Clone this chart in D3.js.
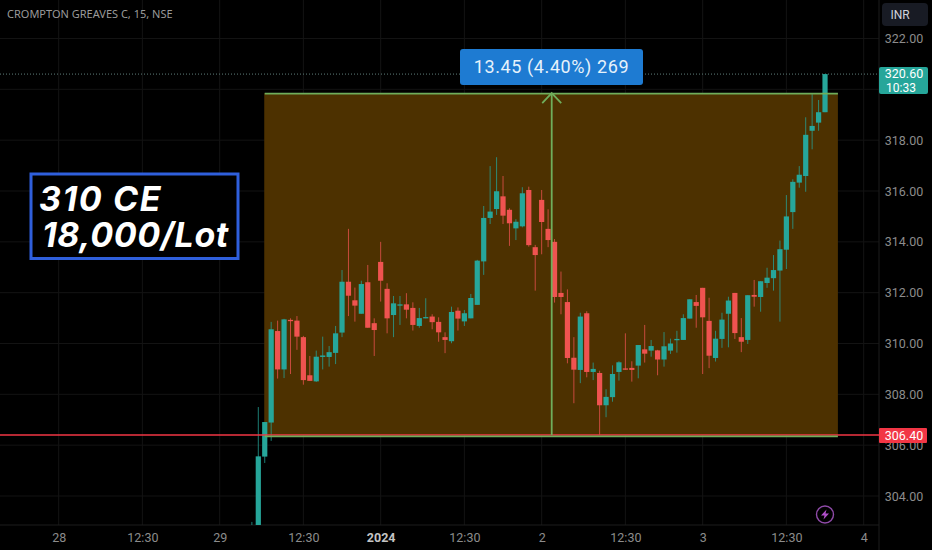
<!DOCTYPE html>
<html>
<head>
<meta charset="utf-8">
<script src="https://cdn.jsdelivr.net/npm/d3@7"></script>
<style>
  html, body { margin: 0; padding: 0; background: #000; overflow: hidden; }
  svg { display: block; }
</style>
</head>
<body>
<script>
// 15 min bars, oldest first
const opens = [302.0,302.6,305.55,306.89,310.49,308.98,310.93,310.90,310.25,308.75,308.51,309.47,309.47,309.63,310.43,312.43,311.70,311.17,312.41,310.80,313.21,312.15,311.12,311.50,311.54,311.40,310.69,311.00,311.06,310.85,310.25,310.09,311.29,310.87,310.99,311.52,313.23,314.94,315.29,315.79,315.26,314.53,314.61,316.04,313.79,315.65,314.51,314.00,311.99,311.63,309.44,308.96,311.19,308.88,308.84,307.57,307.89,308.88,309.02,309.04,309.13,309.77,309.72,309.73,309.37,309.72,310.14,310.14,310.98,311.63,312.19,310.89,309.43,310.18,311.17,311.99,310.25,310.14,311.91,311.83,312.38,312.57,312.87,313.69,315.17,316.33,316.59,318.37,318.69,319.10];
const highs = [302.98,307.50,306.91,310.85,310.90,310.97,310.99,311.08,310.30,309.51,309.72,310.27,309.90,310.69,312.89,314.51,312.20,312.47,313.09,310.99,314.00,312.37,311.87,311.87,311.98,311.62,311.40,311.78,311.15,311.03,310.44,311.45,311.42,311.32,311.95,313.29,315.41,316.98,317.33,316.59,315.32,314.89,316.15,316.17,313.88,316.04,315.28,314.11,312.83,312.13,310.25,311.21,311.27,309.25,308.93,308.20,309.14,309.30,310.40,309.30,309.94,310.73,310.14,309.75,310.45,310.19,310.50,311.15,311.74,311.91,312.19,311.80,310.50,311.21,311.84,311.99,311.00,311.90,312.50,312.45,312.98,313.48,314.05,315.84,316.46,316.98,318.90,319.81,319.58,320.60];
const lows = [301.9,302.5,305.30,306.17,308.62,308.64,308.80,309.75,308.38,308.53,308.49,308.98,309.09,309.19,310.25,311.08,310.86,311.17,310.62,309.51,311.65,310.40,310.25,310.73,310.99,310.51,310.62,310.99,310.56,310.07,309.62,310.01,310.51,310.69,310.99,311.52,312.70,314.70,315.06,314.70,313.84,314.07,314.57,313.81,312.08,313.51,313.79,311.61,311.15,309.22,307.65,308.44,308.67,308.56,306.40,307.10,307.71,308.54,308.97,308.50,308.63,309.25,309.48,308.75,309.09,309.59,309.64,310.14,310.98,310.62,308.80,309.03,309.29,309.83,309.85,310.18,309.66,309.98,311.45,311.25,312.19,312.08,310.86,312.93,314.51,316.13,315.97,317.64,318.37,319.10];
const closes = [302.6,305.56,306.91,310.56,308.98,310.95,310.89,310.27,308.56,308.53,309.48,309.53,309.66,310.40,312.43,311.88,311.49,312.34,310.62,310.53,312.47,310.99,311.58,311.54,311.33,310.73,311.00,311.04,310.84,310.44,310.14,311.24,310.98,311.19,311.79,313.26,314.94,315.19,315.99,315.03,314.73,314.79,315.91,313.87,313.48,314.78,314.07,311.83,311.83,309.43,308.97,311.06,308.88,309.00,307.57,307.90,308.80,309.26,308.98,308.96,309.94,309.60,309.90,309.37,309.89,310.00,310.18,311.00,311.74,311.48,311.03,309.52,310.19,310.94,311.69,310.41,310.07,311.90,311.84,312.45,312.59,312.89,313.71,315.00,316.36,316.64,318.21,318.56,319.10,320.60];

const priceTicks = [304, 306, 308, 310, 312, 314, 316, 318, 320, 322];
const timeTickBars = [-31, -18, -6, 7, 19, 32, 44, 57, 69, 82, 94];
const timeTickLabels = ["28", "12:30", "29", "12:30", "2024", "12:30", "2", "12:30", "3", "12:30", "4"];

const lastPrice = 320.6;
const linePrice = 306.4;
const measureLow = 306.4;
const measureHigh = 319.85;
const measureFirstBar = 1;
const measureLastBar = 90;
const firstBar = -1;

const width = 932;
const height = 550;
const plotRight = 879;
const plotBottom = 525;
const upColor = "#26a69a";
const downColor = "#ef5350";
const greenLine = "#6fae5b";
const redLine = "#f23645";
const axisFont = "Roboto, sans-serif";

const svg = d3
  .select("body")
  .append("svg")
  .attr("width", width)
  .attr("height", height);

svg.append("rect").attr("width", width).attr("height", height).attr("fill", "#000");

svg
  .append("defs")
  .append("clipPath")
  .attr("id", "plot")
  .append("rect")
  .attr("width", plotRight)
  .attr("height", plotBottom);

const x = d3.scaleLinear().domain([0, 89]).range([258.3, 831.46]);
const y = d3.scaleLinear().domain([304, 322]).range([496, 38.5]);

// grid
const grid = svg.append("g");
grid
  .selectAll("line.v")
  .data(timeTickBars)
  .enter()
  .append("line")
  .attr("x1", (d) => x(d))
  .attr("x2", (d) => x(d))
  .attr("y1", 0)
  .attr("y2", plotBottom)
  .attr("stroke", "#131313");
grid
  .selectAll("line.h")
  .data(priceTicks)
  .enter()
  .append("line")
  .attr("x1", 0)
  .attr("x2", plotRight)
  .attr("y1", (d) => y(d))
  .attr("y2", (d) => y(d))
  .attr("stroke", "#131313");

// last price dotted line
svg
  .append("line")
  .attr("x1", 0)
  .attr("x2", plotRight)
  .attr("y1", y(lastPrice))
  .attr("y2", y(lastPrice))
  .attr("stroke", "#5f7f7b")
  .attr("stroke-dasharray", "1 2");

// axes
const yAxis = d3
  .axisRight(y)
  .tickValues(priceTicks)
  .tickSize(0)
  .tickPadding(0)
  .tickFormat((d) => d.toFixed(2));
const yAxisG = svg.append("g").attr("transform", `translate(${plotRight}, 0)`).call(yAxis);
yAxisG.select(".domain").attr("stroke", "#1c1c1c").attr("d", `M0,0V${height}`);
yAxisG
  .selectAll("text")
  .attr("x", 25)
  .attr("text-anchor", "middle")
  .attr("fill", "#8c8c8c")
  .style("font-family", axisFont)
  .style("font-size", "12.5px");

const xAxis = d3
  .axisBottom(x)
  .tickValues(timeTickBars)
  .tickSize(0)
  .tickPadding(0)
  .tickFormat((d, i) => timeTickLabels[i]);
const xAxisG = svg.append("g").attr("transform", `translate(0, ${plotBottom})`).call(xAxis);
xAxisG.select(".domain").attr("stroke", "#1c1c1c").attr("d", `M0,0H${plotRight}`);
xAxisG
  .selectAll("text")
  .attr("y", 8)
  .attr("fill", (d, i) => (timeTickLabels[i] === "2024" ? "#c4c4c4" : "#8c8c8c"))
  .style("font-family", axisFont)
  .style("font-size", "12.5px")
  .style("font-weight", (d, i) => (timeTickLabels[i] === "2024" ? 700 : 400));

// measure box
svg
  .append("rect")
  .attr("x", x(measureFirstBar) - 0.5)
  .attr("y", y(measureHigh))
  .attr("width", x(measureLastBar) - x(measureFirstBar) + 0.5)
  .attr("height", y(measureLow) - y(measureHigh))
  .attr("fill", "#4d3100");

// candles
const bars = svg
  .append("g")
  .attr("clip-path", "url(#plot)")
  .selectAll("g")
  .data(opens)
  .enter()
  .append("g");

bars
  .append("line")
  .attr("x1", (d, i) => x(i + firstBar))
  .attr("x2", (d, i) => x(i + firstBar))
  .attr("y1", (d, i) => y(highs[i]))
  .attr("y2", (d, i) => y(lows[i]))
  .attr("stroke", (d, i) => (closes[i] >= opens[i] ? upColor : downColor))
  .attr("stroke-opacity", 0.75);

bars
  .append("rect")
  .attr("x", (d, i) => x(i + firstBar) - 2.6)
  .attr("width", 5.2)
  .attr("y", (d, i) => y(Math.max(opens[i], closes[i])))
  .attr("height", (d, i) => Math.max(1.3, Math.abs(y(opens[i]) - y(closes[i]))))
  .attr("fill", (d, i) => (closes[i] >= opens[i] ? upColor : downColor));

// horizontal line at 306.40
svg
  .append("line")
  .attr("x1", 0)
  .attr("x2", plotRight)
  .attr("y1", y(linePrice))
  .attr("y2", y(linePrice))
  .attr("stroke", redLine)
  .attr("stroke-width", 1.4);

// measure tool lines
const measure = svg.append("g").attr("fill", "none").attr("stroke", greenLine).attr("stroke-width", 1.8);
const midX = x((measureFirstBar + measureLastBar) / 2) + 0.4;
measure
  .append("line")
  .attr("x1", x(measureFirstBar))
  .attr("x2", x(measureLastBar))
  .attr("y1", y(measureHigh) + 0.4)
  .attr("y2", y(measureHigh) + 0.4);
measure
  .append("line")
  .attr("x1", x(measureFirstBar))
  .attr("x2", x(measureLastBar))
  .attr("y1", y(measureLow) + 1.4)
  .attr("y2", y(measureLow) + 1.4);
measure
  .append("line")
  .attr("x1", midX)
  .attr("x2", midX)
  .attr("y1", y(measureHigh))
  .attr("y2", y(measureLow));
measure
  .append("path")
  .attr("d", `M${midX - 9.5},${y(measureHigh) + 10}L${midX},${y(measureHigh)}L${midX + 9.5},${y(measureHigh) + 10}`);

// measure label
svg
  .append("rect")
  .attr("x", 460)
  .attr("y", 49)
  .attr("width", 183)
  .attr("height", 36)
  .attr("rx", 3)
  .attr("fill", "#1e7bd2");
svg
  .append("text")
  .attr("x", 551.5)
  .attr("y", 73)
  .attr("text-anchor", "middle")
  .attr("fill", "#e6f2fb")
  .style("font-family", axisFont)
  .style("font-size", "18px")
  .style("letter-spacing", "0.6px")
  .text("13.45 (4.40%) 269");

// title
svg
  .append("text")
  .attr("x", 7)
  .attr("y", 18)
  .attr("fill", "#9a9a9a")
  .style("font-family", "'Noto Sans', sans-serif")
  .style("font-size", "11px")
  .text("CROMPTON GREAVES C, 15, NSE");

// note box
svg
  .append("rect")
  .attr("x", 31)
  .attr("y", 174)
  .attr("width", 207)
  .attr("height", 84.5)
  .attr("fill", "#000")
  .attr("stroke", "#2f5fdc")
  .attr("stroke-width", 3);
["310 CE", "18,000/Lot"].forEach((line, i) => {
  svg
    .append("text")
    .attr("x", i === 0 ? 39 : 42)
    .attr("y", i === 0 ? 211 : 247)
    .attr("fill", "#fff")
    .style("font-family", "Inter, sans-serif")
    .style("font-size", "34px")
    .style("font-weight", 700)
    .style("font-style", "italic")
    .style("letter-spacing", i === 0 ? "1.6px" : "0.6px")
    .text(line);
});

// price labels
svg
  .append("rect")
  .attr("x", 879)
  .attr("y", 67)
  .attr("width", 49)
  .attr("height", 27)
  .attr("rx", 2)
  .attr("fill", upColor);
svg
  .append("text")
  .attr("x", 904)
  .attr("y", 78)
  .attr("text-anchor", "middle")
  .attr("fill", "#fff")
  .style("font-family", axisFont)
  .style("font-size", "12.5px")
  .text(lastPrice.toFixed(2));
svg
  .append("text")
  .attr("x", 901)
  .attr("y", 91.5)
  .attr("text-anchor", "middle")
  .attr("fill", "#fff")
  .style("font-family", axisFont)
  .style("font-size", "12px")
  .text("10:33");

svg
  .append("rect")
  .attr("x", 879)
  .attr("y", 428)
  .attr("width", 48)
  .attr("height", 15)
  .attr("rx", 1)
  .attr("fill", redLine);
svg
  .append("text")
  .attr("x", 904)
  .attr("y", 440)
  .attr("text-anchor", "middle")
  .attr("fill", "#fff")
  .style("font-family", axisFont)
  .style("font-size", "12.5px")
  .text(linePrice.toFixed(2));

// currency button
svg
  .append("rect")
  .attr("x", 882)
  .attr("y", 3)
  .attr("width", 46)
  .attr("height", 23)
  .attr("rx", 4)
  .attr("fill", "#181b24");
svg
  .append("text")
  .attr("x", 900)
  .attr("y", 19)
  .attr("text-anchor", "middle")
  .attr("fill", "#d1d4dc")
  .style("font-family", axisFont)
  .style("font-size", "12px")
  .text("INR");

// bolt icon
const bolt = svg.append("g").attr("transform", "translate(825, 514.5)");
bolt.append("circle").attr("r", 8.5).attr("fill", "none").attr("stroke", "#8f4aa8").attr("stroke-width", 1.4);
bolt.append("path").attr("d", "M1.5,-5L-4,1H-0.5L-1.5,5L4,-1H0.5Z").attr("fill", "#b04fc9");
</script>
</body>
</html>
